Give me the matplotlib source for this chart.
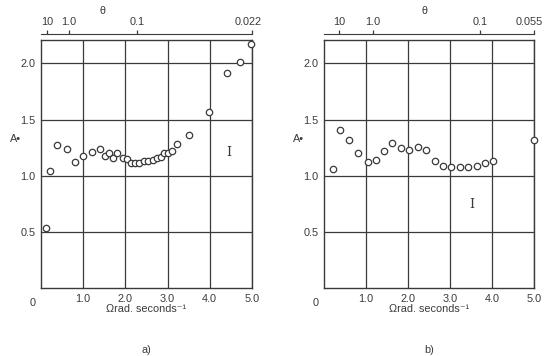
import matplotlib.pyplot as plt
import matplotlib.transforms as mtransforms
import numpy as np

# panel a) measured points
omega_a = [0.12, 0.21, 0.39, 0.61, 0.80, 1.00, 1.21, 1.40, 1.51, 1.62, 1.71, 1.81,
           1.94, 2.03, 2.13, 2.23, 2.33, 2.44, 2.54, 2.65, 2.74, 2.84, 2.91, 3.01,
           3.10, 3.22, 3.51, 3.99, 4.42, 4.72, 4.97]
amp_a = [0.53, 1.04, 1.27, 1.24, 1.12, 1.18, 1.21, 1.24, 1.18, 1.20, 1.16, 1.20,
         1.16, 1.15, 1.11, 1.11, 1.11, 1.13, 1.13, 1.14, 1.155, 1.17, 1.20, 1.20,
         1.22, 1.28, 1.36, 1.57, 1.915, 2.01, 2.17]

# panel b) measured points
omega_b = [0.21, 0.38, 0.60, 0.82, 1.04, 1.24, 1.43, 1.63, 1.83, 2.03, 2.23, 2.42,
           2.64, 2.83, 3.03, 3.24, 3.43, 3.64, 3.83, 4.03, 5.0]
amp_b = [1.06, 1.41, 1.32, 1.20, 1.12, 1.14, 1.22, 1.29, 1.25, 1.23, 1.26, 1.23,
         1.13, 1.09, 1.08, 1.08, 1.08, 1.09, 1.11, 1.13, 1.32]

# theta scale on top (tick position in omega, label)
theta_pos_a = [0.14, 0.66, 2.28, 5.0]
theta_lab_a = ['10', '1.0', '0.1', '0.022']
theta_pos_b = [0.36, 1.17, 3.71, 5.0]
theta_lab_b = ['10', '1.0', '0.1', '0.055']

x_ticks = [1.0, 2.0, 3.0, 4.0, 5.0]
y_ticks = [0.5, 1.0, 1.5, 2.0]

plt.rcParams['font.family'] = ['Liberation Sans', 'DejaVu Sans']
ink = '#3a3a3a'
fs = 7.8

fig = plt.figure(figsize=(5.45, 3.56), dpi=100)
ax_a = fig.add_axes([0.0752, 0.191, 0.387, 0.697])
ax_b = fig.add_axes([0.5945, 0.191, 0.385, 0.697])

panels = [(ax_a, omega_a, amp_a, theta_pos_a, theta_lab_a, 'a)', (4.45, 1.205), 1.45),
          (ax_b, omega_b, amp_b, theta_pos_b, theta_lab_b, 'b)', (3.52, 0.74), 2.4)]

for ax, om, amp, tpos, tlab, tag, ipos, theta_x in panels:
    ax.set_xlim(0, 5.0)
    ax.set_ylim(0, 2.21)
    ax.set_xticks(x_ticks)
    ax.set_xticklabels([f'{v:.1f}' for v in x_ticks])
    ax.set_yticks(y_ticks)
    ax.set_yticklabels([f'{v:.1f}' for v in y_ticks])
    ax.tick_params(length=0, labelsize=fs, labelcolor=ink, pad=4)
    ax.grid(True, color=ink, lw=0.9)
    for sp in ax.spines.values():
        sp.set_color(ink)
        sp.set_linewidth(1.0)
    ax.plot(om, amp, 'o', ms=4.6, mfc='white', mec=ink, mew=0.9, ls='none',
            zorder=3, clip_on=False)
    ax.text(-0.2, -0.04, '0', transform=ax.get_xaxis_transform(), ha='center',
            va='top', fontsize=fs, color=ink)
    ax.set_xlabel('Ωrad. seconds⁻¹', fontsize=fs, color=ink, labelpad=0)
    ax.text(-0.12, 0.60, 'A•', transform=ax.transAxes, fontsize=fs, color=ink,
            ha='center', va='center')
    ax.text(ipos[0], ipos[1], 'I', fontsize=9, family='DejaVu Serif', color=ink,
            ha='center', va='center')
    ax.text(0.5, -0.25, tag, transform=ax.transAxes, fontsize=fs, color=ink,
            ha='center', va='center')

    # theta scale, slightly above the frame
    top = ax.twiny()
    top.set_xlim(0, 5.0)
    top.set_xticks(tpos)
    top.set_xticklabels(tlab)
    for k in ['left', 'right', 'bottom']:
        top.spines[k].set_visible(False)
    top.spines['top'].set_position(('outward', 4))
    top.spines['top'].set_color(ink)
    top.tick_params(axis='x', direction='out', length=3, width=0.9, color=ink,
                    labelsize=fs, labelcolor=ink, pad=2)
    ax.text(theta_x, 1 - 11 / 356, 'θ', transform=mtransforms.blended_transform_factory(
        ax.transData, fig.transFigure), fontsize=fs, color=ink, ha='center', va='center')
    # keep the last label inside the figure
    last = top.get_xticklabels()[-1]
    last.set_transform(last.get_transform() +
                       mtransforms.ScaledTranslation(-3 / 72, 0, fig.dpi_scale_trans))

fig.savefig('out.png', dpi=100)
